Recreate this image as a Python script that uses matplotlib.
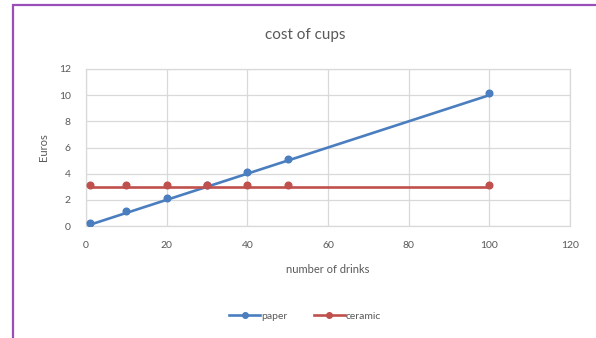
import matplotlib
matplotlib.use("Agg")
import matplotlib.pyplot as plt
import matplotlib.transforms as mtransforms
from matplotlib.patches import Rectangle

plt.rcParams['font.family'] = ['Lato', 'DejaVu Sans']

drinks = [1, 10, 20, 30, 40, 50, 100]
paper = [0.1, 1, 2, 3, 4, 5, 10]
ceramic = [3, 3, 3, 3, 3, 3, 3]

BLUE = '#4A7EBF'
RED = '#C0504D'
GRID = '#D9D9D9'
TEXT = '#595959'

W, H = 596, 338
fig = plt.figure(figsize=(W / 100, H / 100), dpi=100)
ax = fig.add_axes([86 / W, 1 - 226 / H, (570 - 86) / W, (226 - 69) / H])

# excel draws the markers a touch above the line
lift = mtransforms.ScaledTranslation(0, 2 / 100, fig.dpi_scale_trans)

for ys, col, name in [(paper, BLUE, 'paper'), (ceramic, RED, 'ceramic')]:
    ax.plot(drinks, ys, color=col, lw=1.9, solid_capstyle='butt', zorder=3)
    ax.plot(drinks, ys, ls='none', marker='o', ms=4.8, color=col,
            transform=ax.transData + lift, zorder=4)
    ax.plot([], [], color=col, lw=1.9, marker='o', ms=4, label=name)

ax.set_xlim(0, 120)
ax.set_ylim(0, 12)
ax.set_xticks(range(0, 121, 20))
ax.set_yticks(range(0, 13, 2))
ax.grid(True, color=GRID, lw=0.9)
ax.set_axisbelow(True)
for s in ax.spines.values():
    s.set_color(GRID)
    s.set_linewidth(0.9)
ax.tick_params(length=0, labelsize=7.5, colors=TEXT)
ax.tick_params(axis='x', pad=11)
ax.tick_params(axis='y', pad=11)

ax.set_xlabel('number of drinks', fontsize=8, color=TEXT, labelpad=10)
ax.set_ylabel('Euros', fontsize=8, color=TEXT, labelpad=7)
fig.text(305 / W, 1 - 35 / H, 'cost of cups', fontsize=11, color=TEXT,
         ha='center', va='center')

fig.legend(loc='center', bbox_to_anchor=(305 / W, 1 - 316 / H), ncol=2,
           frameon=False, fontsize=7.5, handlelength=3, handletextpad=0.1,
           columnspacing=2.5, labelcolor=TEXT)

# purple frame around the chart object
fig.patches.append(Rectangle((13 / W, -0.1), 1.2, 1.1 - 5 / H,
                             transform=fig.transFigure, fill=False,
                             edgecolor='#9A4FB8', lw=1.6))

fig.savefig('out.png', dpi=100)
